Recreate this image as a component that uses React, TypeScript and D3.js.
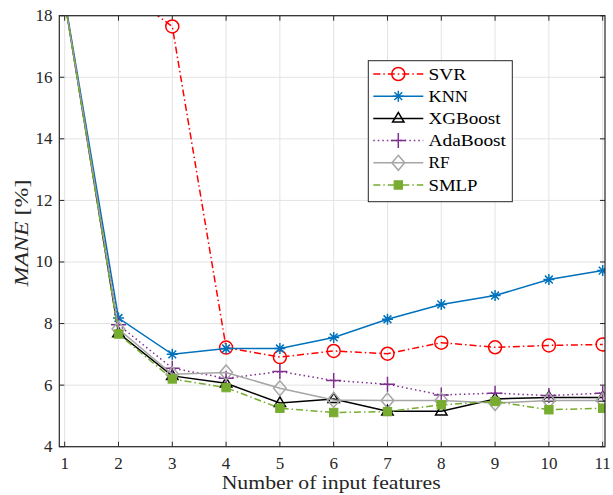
import React from "react";
import * as d3 from "d3";

const features = [1, 2, 3, 4, 5, 6, 7, 8, 9, 10, 11];
const svr = [20.5, 18.93, 17.65, 7.22, 6.91, 7.11, 7.02, 7.38, 7.23, 7.29, 7.32];
const knn = [18.55, 8.18, 7.0, 7.19, 7.19, 7.55, 8.14, 8.62, 8.91, 9.43, 9.72];
const xgboost = [18.5, 7.69, 6.3, 6.06, 5.42, 5.55, 5.15, 5.15, 5.55, 5.6, 5.6];
const adaboost = [18.5, 7.96, 6.55, 6.22, 6.44, 6.15, 6.03, 5.68, 5.74, 5.66, 5.74];
const rf = [18.5, 7.82, 6.35, 6.41, 5.9, 5.52, 5.5, 5.5, 5.42, 5.5, 5.5];
const smlp = [18.5, 7.66, 6.2, 5.92, 5.25, 5.11, 5.14, 5.36, 5.47, 5.2, 5.25];
const yTicks = [4, 6, 8, 10, 12, 14, 16, 18];
const seriesNames = ["SVR", "KNN", "XGBoost", "AdaBoost", "RF", "SMLP"];
const legendTextWidths = [37.5, 39.5, 72, 77.5, 21, 49];

type S = { name: string; values: number[]; color: string; dash: string; marker: string };
const series: S[] = [
  { name: seriesNames[0], values: svr, color: "#ff0000", dash: "7,3,1.5,3", marker: "circle" },
  { name: seriesNames[1], values: knn, color: "#0072BD", dash: "", marker: "asterisk" },
  { name: seriesNames[2], values: xgboost, color: "#000000", dash: "", marker: "triangle" },
  { name: seriesNames[3], values: adaboost, color: "#7E2F8E", dash: "1.5,3", marker: "plus" },
  { name: seriesNames[4], values: rf, color: "#a6a6a6", dash: "", marker: "diamond" },
  { name: seriesNames[5], values: smlp, color: "#77AC30", dash: "7,3,1.5,3", marker: "square" },
];

const L = 59.3, R = 605, T = 15.7, B = 446.7;
const FONT = "'Liberation Serif', 'DejaVu Serif', serif";

function Marker({ type, x, y, color }: { type: string; x: number; y: number; color: string }) {
  const sw = 1.5;
  if (type === "circle") return <circle cx={x} cy={y} r={6.5} fill="none" stroke={color} strokeWidth={sw} />;
  if (type === "asterisk") {
    const r = 5.5;
    const d = [0, 45, 90, 135]
      .map((a) => {
        const rad = (a * Math.PI) / 180;
        const dx = r * Math.cos(rad), dy = r * Math.sin(rad);
        return `M${x - dx},${y - dy}L${x + dx},${y + dy}`;
      })
      .join("");
    return <path d={d} stroke={color} strokeWidth={sw} fill="none" />;
  }
  if (type === "triangle") {
    const r = 6;
    return (
      <path
        d={`M${x},${y - r}L${x + r * 0.95},${y + r * 0.6}L${x - r * 0.95},${y + r * 0.6}Z`}
        fill="none"
        stroke={color}
        strokeWidth={sw}
      />
    );
  }
  if (type === "plus") {
    const r = 7.5;
    return <path d={`M${x - r},${y}L${x + r},${y}M${x},${y - r}L${x},${y + r}`} stroke={color} strokeWidth={sw} />;
  }
  if (type === "diamond") {
    const r = 7.5;
    return (
      <path d={`M${x},${y - r}L${x + r * 0.85},${y}L${x},${y + r}L${x - r * 0.85},${y}Z`} fill="none" stroke={color} strokeWidth={sw} />
    );
  }
  const s = 4.2;
  return <rect x={x - s} y={y - s} width={2 * s} height={2 * s} fill={color} stroke={color} strokeWidth={1} />;
}

export default function App() {
  const x = d3.scaleLinear().domain([0.9, 11.043]).range([L, R]);
  const y = d3.scaleLinear().domain([4, 18]).range([B, T]);
  const line = d3
    .line<number>()
    .x((_, i) => x(features[i]))
    .y((d) => y(d));

  const legX = 368.3, legY = 60.7, legW = 144, legH = 141;
  const rowH = 22.2;

  return (
    <svg width={613} height={495} style={{ position: "absolute", left: 0, top: 0 }}>
      <rect width={613} height={495} fill="#fff" />
      <defs>
        <clipPath id="plot">
          <rect x={L} y={T} width={R - L} height={B - T} />
        </clipPath>
      </defs>
      {/* grid */}
      {features.map((f) => (
        <line key={"gx" + f} x1={x(f)} x2={x(f)} y1={T} y2={B} stroke="#e3e3e3" strokeWidth={1} />
      ))}
      {yTicks.map((t) => (
        <line key={"gy" + t} x1={L} x2={R} y1={y(t)} y2={y(t)} stroke="#e3e3e3" strokeWidth={1} />
      ))}
      {/* ticks */}
      {features.map((f) => (
        <g key={"tx" + f}>
          <line x1={x(f)} x2={x(f)} y1={B} y2={B - 5} stroke="#262626" strokeWidth={1} />
          <line x1={x(f)} x2={x(f)} y1={T} y2={T + 5} stroke="#262626" strokeWidth={1} />
          <text x={x(f)} y={468.5} textAnchor="middle" fontFamily={FONT} fontSize={17} fill="#262626">
            {f}
          </text>
        </g>
      ))}
      {yTicks.map((t) => (
        <g key={"ty" + t}>
          <line x1={L} x2={L + 5} y1={y(t)} y2={y(t)} stroke="#262626" strokeWidth={1} />
          <line x1={R} x2={R - 5} y1={y(t)} y2={y(t)} stroke="#262626" strokeWidth={1} />
          <text x={52.5} y={y(t) + 5.5} textAnchor="end" fontFamily={FONT} fontSize={17} fill="#262626">
            {t}
          </text>
        </g>
      ))}
      {/* series */}
      <g clipPath="url(#plot)">
        {series.map((s) => (
          <g key={s.name}>
            <path d={line(s.values) || ""} fill="none" stroke={s.color} strokeWidth={1.5} strokeDasharray={s.dash || undefined} />
            {s.values.map((v, i) => (
              <Marker key={i} type={s.marker} x={x(features[i])} y={y(v)} color={s.color} />
            ))}
          </g>
        ))}
      </g>
      {/* box */}
      <rect x={L} y={T} width={R - L} height={B - T} fill="none" stroke="#262626" strokeWidth={1.2} />
      {/* legend */}
      <rect x={legX} y={legY} width={legW} height={legH} fill="#fff" stroke="#262626" strokeWidth={1} />
      {series.map((s, i) => {
        const ry = 74 + i * rowH;
        return (
          <g key={"leg" + s.name}>
            <line x1={373.3} x2={423.3} y1={ry} y2={ry} stroke={s.color} strokeWidth={1.5} strokeDasharray={s.dash || undefined} />
            <Marker type={s.marker} x={398.3} y={ry} color={s.color} />
            <text
              x={428.5}
              y={ry + 5.5}
              fontFamily={FONT}
              fontSize={17}
              fill="#000"
              textLength={legendTextWidths[i]}
              lengthAdjust="spacingAndGlyphs"
            >
              {s.name}
            </text>
          </g>
        );
      })}
      {/* axis labels */}
      <text
        x={331.2}
        y={488.5}
        textAnchor="middle"
        fontFamily={FONT}
        fontSize={19}
        fill="#262626"
        textLength={219}
        lengthAdjust="spacingAndGlyphs"
      >
        Number of input features
      </text>
      <text
        transform="translate(28,233) rotate(-90)"
        textAnchor="middle"
        fontFamily={FONT}
        fontSize={19}
        fill="#262626"
        textLength={107}
        lengthAdjust="spacingAndGlyphs"
      >
        <tspan fontStyle="italic">MANE</tspan>
        <tspan> [%]</tspan>
      </text>
    </svg>
  );
}
